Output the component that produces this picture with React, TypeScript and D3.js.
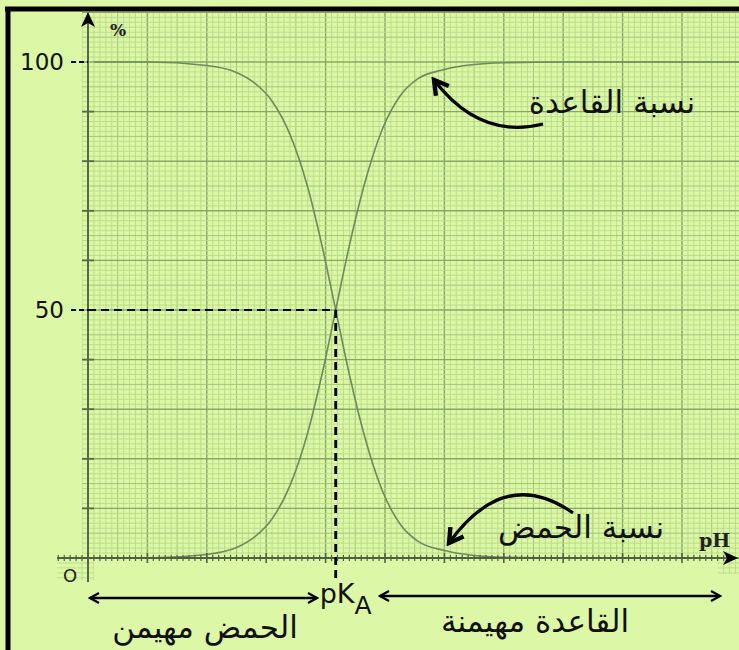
import React, { useRef, useEffect } from 'react';
import * as d3 from 'd3';

// values
const phPoints = [0.1, 1, 2, 2.5, 2.8, 3.1, 3.4, 3.7, 3.95, 4.17, 4.4, 4.65, 4.95, 5.25, 5.55, 6, 6.5, 7, 8, 9, 10, 11];
const acidShare = [100, 100, 99.3, 97.9, 95.8, 92.1, 85.4, 74.7, 62.4, 50, 37, 24.8, 13.7, 6.9, 3.4, 1.5, 0.5, 0.15, 0, 0, 0, 0];
const baseShare = [0, 0, 0.7, 2.1, 4.2, 7.9, 14.6, 25.3, 37.6, 50, 63, 75.2, 86.3, 93.1, 96.6, 98.5, 99.5, 99.85, 100, 100, 100, 100];
const pKa = 4.17;
const yTickValues = [10, 20, 30, 40, 60, 70, 80, 90];
const yLabels = [100, 50];

const W = 739;
const H = 650;

const App: React.FC = () => {
  const ref = useRef<SVGSVGElement>(null);

  useEffect(() => {
    if (!ref.current) return;
    const svg = d3.select(ref.current);
    svg.selectAll('*').remove();

    const x = d3.scaleLinear().domain([0, 10]).range([88, 682]);
    const y = d3.scaleLinear().domain([0, 100]).range([558, 62]);
    const font = 'DejaVu Sans, sans-serif';

    const defs = svg.append('defs');
    defs.append('marker')
      .attr('id', 'open')
      .attr('viewBox', '0 0 12 12')
      .attr('refX', 10).attr('refY', 6)
      .attr('markerWidth', 12).attr('markerHeight', 12)
      .attr('markerUnits', 'userSpaceOnUse')
      .attr('orient', 'auto-start-reverse')
      .append('path')
      .attr('d', 'M1,1 L10,6 L1,11')
      .attr('fill', 'none').attr('stroke', '#000').attr('stroke-width', 2.2);
    defs.append('marker')
      .attr('id', 'bold')
      .attr('viewBox', '0 0 16 16')
      .attr('refX', 13).attr('refY', 8)
      .attr('markerWidth', 20).attr('markerHeight', 20)
      .attr('markerUnits', 'userSpaceOnUse')
      .attr('orient', 'auto')
      .append('path')
      .attr('d', 'M2,1.5 L13,8 L2,14.5')
      .attr('fill', 'none').attr('stroke', '#000').attr('stroke-width', 3.5);
    const clip = defs.append('clipPath').attr('id', 'paper');
    clip.append('rect').attr('x', 82).attr('y', 12).attr('width', W - 82).attr('height', 546);
    clip.append('rect').attr('x', 57).attr('y', 556).attr('width', 37).attr('height', 24);
    clip.append('rect').attr('x', 718).attr('y', 556).attr('width', 21).attr('height', 18);

    // page
    svg.append('rect').attr('width', W).attr('height', H).attr('fill', '#dcf8a6');

    // graph paper
    const g = svg.append('g').attr('clip-path', 'url(#paper)');
    const gridColour = (major: boolean, mid: boolean) =>
      major ? '#88a766' : mid ? '#a3c47a' : '#bcdc8c';
    d3.range(-1, 112).forEach(i => {
      const major = i % 10 === 0;
      const mid = i % 5 === 0;
      g.append('line')
        .attr('x1', x(i / 10)).attr('x2', x(i / 10))
        .attr('y1', 0).attr('y2', H)
        .attr('stroke', gridColour(major, mid))
        .attr('stroke-width', major ? 1.4 : 1);
    });
    d3.range(-25, 111).forEach(i => {
      const major = i % 10 === 0;
      const mid = i % 5 === 0;
      g.append('line')
        .attr('x1', 0).attr('x2', W)
        .attr('y1', y(i)).attr('y2', y(i))
        .attr('stroke', gridColour(major, mid))
        .attr('stroke-width', major ? 1.4 : 1);
    });

    // frame
    svg.append('line').attr('x1', 5).attr('x2', W).attr('y1', 9).attr('y2', 9)
      .attr('stroke', '#000').attr('stroke-width', 5);
    svg.append('line').attr('x1', 8).attr('x2', 8).attr('y1', 7).attr('y2', H)
      .attr('stroke', '#000').attr('stroke-width', 5);

    // curves
    const line = d3.line<number>()
      .x((d, i) => x(phPoints[i]))
      .y(d => y(d))
      .curve(d3.curveMonotoneX);
    [acidShare, baseShare].forEach(s => {
      svg.append('path')
        .attr('d', line(s) || '')
        .attr('fill', 'none')
        .attr('stroke', '#6f8a5c')
        .attr('stroke-width', 1.6);
    });

    // y axis
    svg.append('line').attr('x1', 88).attr('x2', 88).attr('y1', 582).attr('y2', 20)
      .attr('stroke', '#56694a').attr('stroke-width', 2);
    svg.append('path').attr('d', 'M88,12 L95,27 L88,23 L81,27 Z').attr('fill', '#000');
    yTickValues.forEach(v => {
      svg.append('line').attr('x1', 82).attr('x2', 94).attr('y1', y(v)).attr('y2', y(v))
        .attr('stroke', '#56694a').attr('stroke-width', 1.8);
    });
    yLabels.forEach(v => {
      svg.append('text')
        .attr('x', 64).attr('y', y(v) + 8)
        .attr('text-anchor', 'end')
        .attr('font-family', font).attr('font-size', 23)
        .attr('fill', '#111')
        .text(v);
      svg.append('line').attr('x1', 71).attr('x2', 88).attr('y1', y(v)).attr('y2', y(v))
        .attr('stroke', '#000').attr('stroke-width', 2.2).attr('stroke-dasharray', '5,3');
    });

    // x axis with ticks
    svg.append('line').attr('x1', 57).attr('x2', 728).attr('y1', 558).attr('y2', 558)
      .attr('stroke', '#4f5f43').attr('stroke-width', 2);
    d3.range(-5, 108).forEach(i => {
      const px = x(i / 10);
      const major = i % 10 === 0;
      svg.append('line').attr('x1', px).attr('x2', px)
        .attr('y1', 558 - (major ? 5 : 3)).attr('y2', 558 + (major ? 5 : 3))
        .attr('stroke', '#4f5f43').attr('stroke-width', major ? 1.6 : 1.2);
    });
    svg.append('path').attr('d', 'M738,558 L723,551 L727,558 L723,565 Z').attr('fill', '#000');

    // pKa dashed guides
    svg.append('line').attr('x1', 88).attr('x2', x(pKa)).attr('y1', y(50)).attr('y2', y(50))
      .attr('stroke', '#000').attr('stroke-width', 2.2).attr('stroke-dasharray', '8,5');
    svg.append('line').attr('x1', x(pKa)).attr('x2', x(pKa)).attr('y1', y(50)).attr('y2', 582)
      .attr('stroke', '#000').attr('stroke-width', 2.8).attr('stroke-dasharray', '8,5');

    // axis labels
    svg.append('text').attr('x', 110).attr('y', 36)
      .attr('font-family', 'DejaVu Serif, serif').attr('font-weight', 'bold').attr('font-size', 17)
      .attr('fill', '#222').text('%');
    svg.append('text').attr('x', 699).attr('y', 547)
      .attr('font-family', 'DejaVu Serif, serif').attr('font-weight', 'bold').attr('font-size', 19)
      .attr('fill', '#222').text('pH');
    svg.append('text').attr('x', 63).attr('y', 582)
      .attr('font-family', font).attr('font-size', 18)
      .attr('fill', '#222').text('O');

    // pKa label
    const pk = svg.append('text').attr('x', x(pKa) - 16).attr('y', 603)
      .attr('font-family', font).attr('font-size', 27).attr('fill', '#111');
    pk.append('tspan').text('pK');
    pk.append('tspan').attr('dy', 11).attr('font-size', 25).text('A');

    // dominance arrows
    svg.append('line').attr('x1', 90).attr('x2', 317).attr('y1', 598).attr('y2', 598)
      .attr('stroke', '#000').attr('stroke-width', 2.6)
      .attr('marker-start', 'url(#open)').attr('marker-end', 'url(#open)');
    svg.append('line').attr('x1', 380).attr('x2', 720).attr('y1', 596).attr('y2', 596)
      .attr('stroke', '#000').attr('stroke-width', 2.6)
      .attr('marker-start', 'url(#open)').attr('marker-end', 'url(#open)');

    const label = (tx: number, ty: number, t: string) =>
      svg.append('text').attr('x', tx).attr('y', ty)
        .attr('text-anchor', 'middle')
        .attr('font-family', font).attr('font-size', 31)
        .attr('fill', '#111').attr('direction', 'rtl')
        .text(t);
    label(205, 638, 'الحمض مهيمن');
    label(535, 632, 'القاعدة مهيمنة');
    label(612, 113, 'نسبة القاعدة');
    label(581, 538, 'نسبة الحمض');

    // curved pointers
    svg.append('path').attr('d', 'M543,124 Q480,140 434,80')
      .attr('fill', 'none').attr('stroke', '#000').attr('stroke-width', 3.2)
      .attr('marker-end', 'url(#bold)');
    svg.append('path').attr('d', 'M573,513 Q505,465 449,543')
      .attr('fill', 'none').attr('stroke', '#000').attr('stroke-width', 3.2)
      .attr('marker-end', 'url(#bold)');
  }, []);

  return (
    <div style={{ position: 'absolute', left: 0, top: 0 }}>
      <svg ref={ref} width={W} height={H} style={{ display: 'block' }} />
    </div>
  );
};

export default App;
